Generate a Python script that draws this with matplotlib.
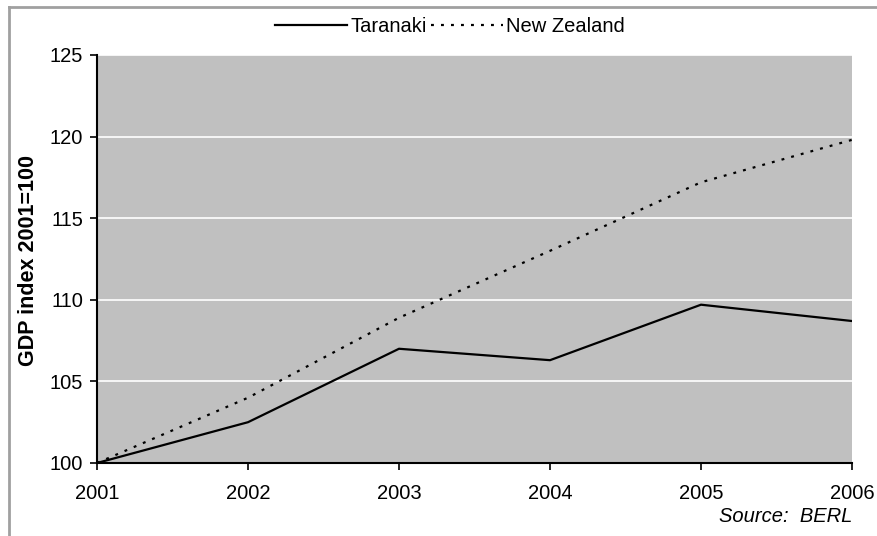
import matplotlib
matplotlib.use('Agg')
import matplotlib.pyplot as plt
from matplotlib.lines import Line2D

# GDP index, 2001 = 100
years = [2001, 2002, 2003, 2004, 2005, 2006]
taranaki = [100.0, 102.5, 107.0, 106.3, 109.7, 108.7]
new_zealand = [100.0, 104.0, 108.9, 113.0, 117.2, 119.8]
y_ticks = [100, 105, 110, 115, 120, 125]

plt.rcParams['font.family'] = ['Liberation Sans', 'DejaVu Sans']
FS = 14.5

fig = plt.figure(figsize=(8.77, 5.36), dpi=100)
fig.patch.set_facecolor('white')
ax = fig.add_axes([97 / 877, 1 - 463 / 536, (852 - 97) / 877, (463 - 55) / 536])
ax.set_facecolor('#c0c0c0')

ax.plot(years, taranaki, color='black', linewidth=1.6, label='Taranaki')
ax.plot(years, new_zealand, color='black', linewidth=1.6,
        linestyle=(0, (1.3, 3.2)), label='New Zealand')

ax.set_xlim(2001, 2006)
ax.set_ylim(100, 125)
ax.set_xticks(years)
ax.set_yticks(y_ticks)
ax.tick_params(axis='both', labelsize=FS, length=5, width=1.2, direction='out', color='black')
ax.tick_params(axis='x', pad=10)
ax.tick_params(axis='y', pad=5)

ax.grid(axis='y', color='white', linewidth=1.2)
ax.set_axisbelow(True)
for side in ['top', 'right']:
    ax.spines[side].set_visible(False)
for side in ['left', 'bottom']:
    ax.spines[side].set_linewidth(1.5)
    ax.spines[side].set_color('black')

ax.set_ylabel('GDP index 2001=100', fontsize=15.5, fontweight='bold')
ax.yaxis.set_label_coords(29 / 877, 1 - 261 / 536, transform=fig.transFigure)
ax.yaxis.label.set_va('center')

handles = [Line2D([], [], color='black', linewidth=1.6),
           Line2D([], [], color='black', linewidth=1.6, linestyle=(0, (1.3, 3.2)))]
fig.legend(handles, ['Taranaki', 'New Zealand'], loc='center',
           bbox_to_anchor=(450 / 877, 1 - 27 / 536), ncol=2, frameon=False,
           fontsize=FS, handlelength=3.6, handletextpad=0.15, columnspacing=0.2)

fig.text(852 / 877, 1 - 516 / 536, 'Source:  BERL', ha='right', va='center',
         fontsize=FS, style='italic')

# outer frame edges along the top and left
fig.add_artist(Line2D([9 / 877, 1], [1 - 7 / 536, 1 - 7 / 536], color='#a0a0a0', linewidth=2))
fig.add_artist(Line2D([9 / 877, 9 / 877], [0, 1 - 7 / 536], color='#a0a0a0', linewidth=2))

fig.savefig('out.png', dpi=100)
